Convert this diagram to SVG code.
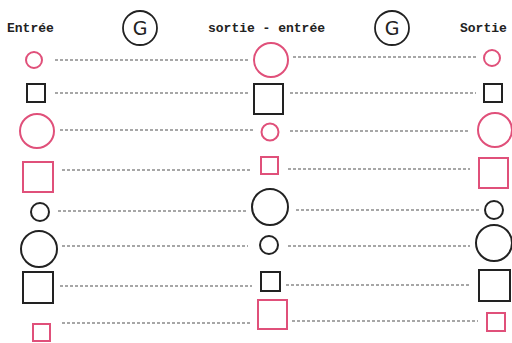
<svg xmlns="http://www.w3.org/2000/svg" width="512" height="343" viewBox="0 0 512 343">
<style>
.t{font-family:"Liberation Mono","DejaVu Sans Mono",monospace;font-size:13px;fill:#222;font-weight:bold}
.g{font-family:"DejaVu Sans","Liberation Sans",sans-serif;font-size:19px;fill:#222;text-anchor:middle}
.p{fill:none;stroke:#e0507a;stroke-width:2}
.k{fill:none;stroke:#222;stroke-width:2}
.gc{fill:none;stroke:#222;stroke-width:1.8}
.l{stroke:#8a8a8a;stroke-width:1.3;stroke-dasharray:3 2;fill:none}
</style>
<rect width="512" height="343" fill="#fff"/>
<g id="header">
<text class="t" x="7" y="32">Entrée</text>
<circle class="gc" cx="140" cy="28" r="17"/><text class="g" x="140" y="35">G</text>
<text class="t" x="208" y="32">sortie - entrée</text>
<circle class="gc" cx="392" cy="28" r="17"/><text class="g" x="392" y="35">G</text>
<text class="t" x="460" y="32">Sortie</text>
</g>
<g id="connectors">
<line class="l" x1="55" y1="60" x2="248" y2="60"/><line class="l" x1="293" y1="57" x2="476" y2="57"/>
<line class="l" x1="55" y1="93" x2="248" y2="93"/><line class="l" x1="290" y1="93" x2="476" y2="93"/>
<line class="l" x1="60" y1="130" x2="255" y2="130"/><line class="l" x1="290" y1="131" x2="468" y2="131"/>
<line class="l" x1="62" y1="170" x2="252" y2="170"/><line class="l" x1="288" y1="169" x2="470" y2="169"/>
<line class="l" x1="58" y1="211" x2="248" y2="211"/><line class="l" x1="296" y1="210" x2="480" y2="210"/>
<line class="l" x1="62" y1="246" x2="248" y2="246"/><line class="l" x1="288" y1="246" x2="470" y2="246"/>
<line class="l" x1="60" y1="286" x2="252" y2="286"/><line class="l" x1="286" y1="285" x2="470" y2="285"/>
<line class="l" x1="62" y1="323" x2="250" y2="323"/><line class="l" x1="292" y1="321" x2="478" y2="321"/>
</g>
<g id="row1"><circle class="p" cx="34" cy="60" r="8"/><circle class="p" cx="271" cy="60" r="17"/><circle class="p" cx="492" cy="58" r="8"/></g>
<g id="row2"><rect class="k" x="27" y="84" width="18" height="18"/><rect class="k" x="254" y="84" width="29" height="30"/><rect class="k" x="484" y="84" width="18" height="18"/></g>
<g id="row3"><circle class="p" cx="37" cy="131" r="17"/><circle class="p" cx="270" cy="132" r="8.5"/><circle class="p" cx="495" cy="130" r="17"/></g>
<g id="row4"><rect class="p" x="23" y="162" width="30" height="30"/><rect class="p" x="261" y="157" width="17" height="17"/><rect class="p" x="479" y="158" width="29" height="30"/></g>
<g id="row5"><circle class="k" cx="40" cy="212" r="9"/><circle class="k" cx="270" cy="207" r="18"/><circle class="k" cx="494" cy="210" r="9"/></g>
<g id="row6"><circle class="k" cx="39" cy="249" r="18"/><circle class="k" cx="269" cy="245" r="9"/><circle class="k" cx="494" cy="243" r="18"/></g>
<g id="row7"><rect class="k" x="23" y="272" width="30" height="31"/><rect class="k" x="261" y="272" width="19" height="19"/><rect class="k" x="479" y="270" width="31" height="31"/></g>
<g id="row8"><rect class="p" x="33" y="324" width="17" height="17"/><rect class="p" x="258" y="300" width="29" height="29"/><rect class="p" x="487" y="313" width="18" height="18"/></g>
</svg>
